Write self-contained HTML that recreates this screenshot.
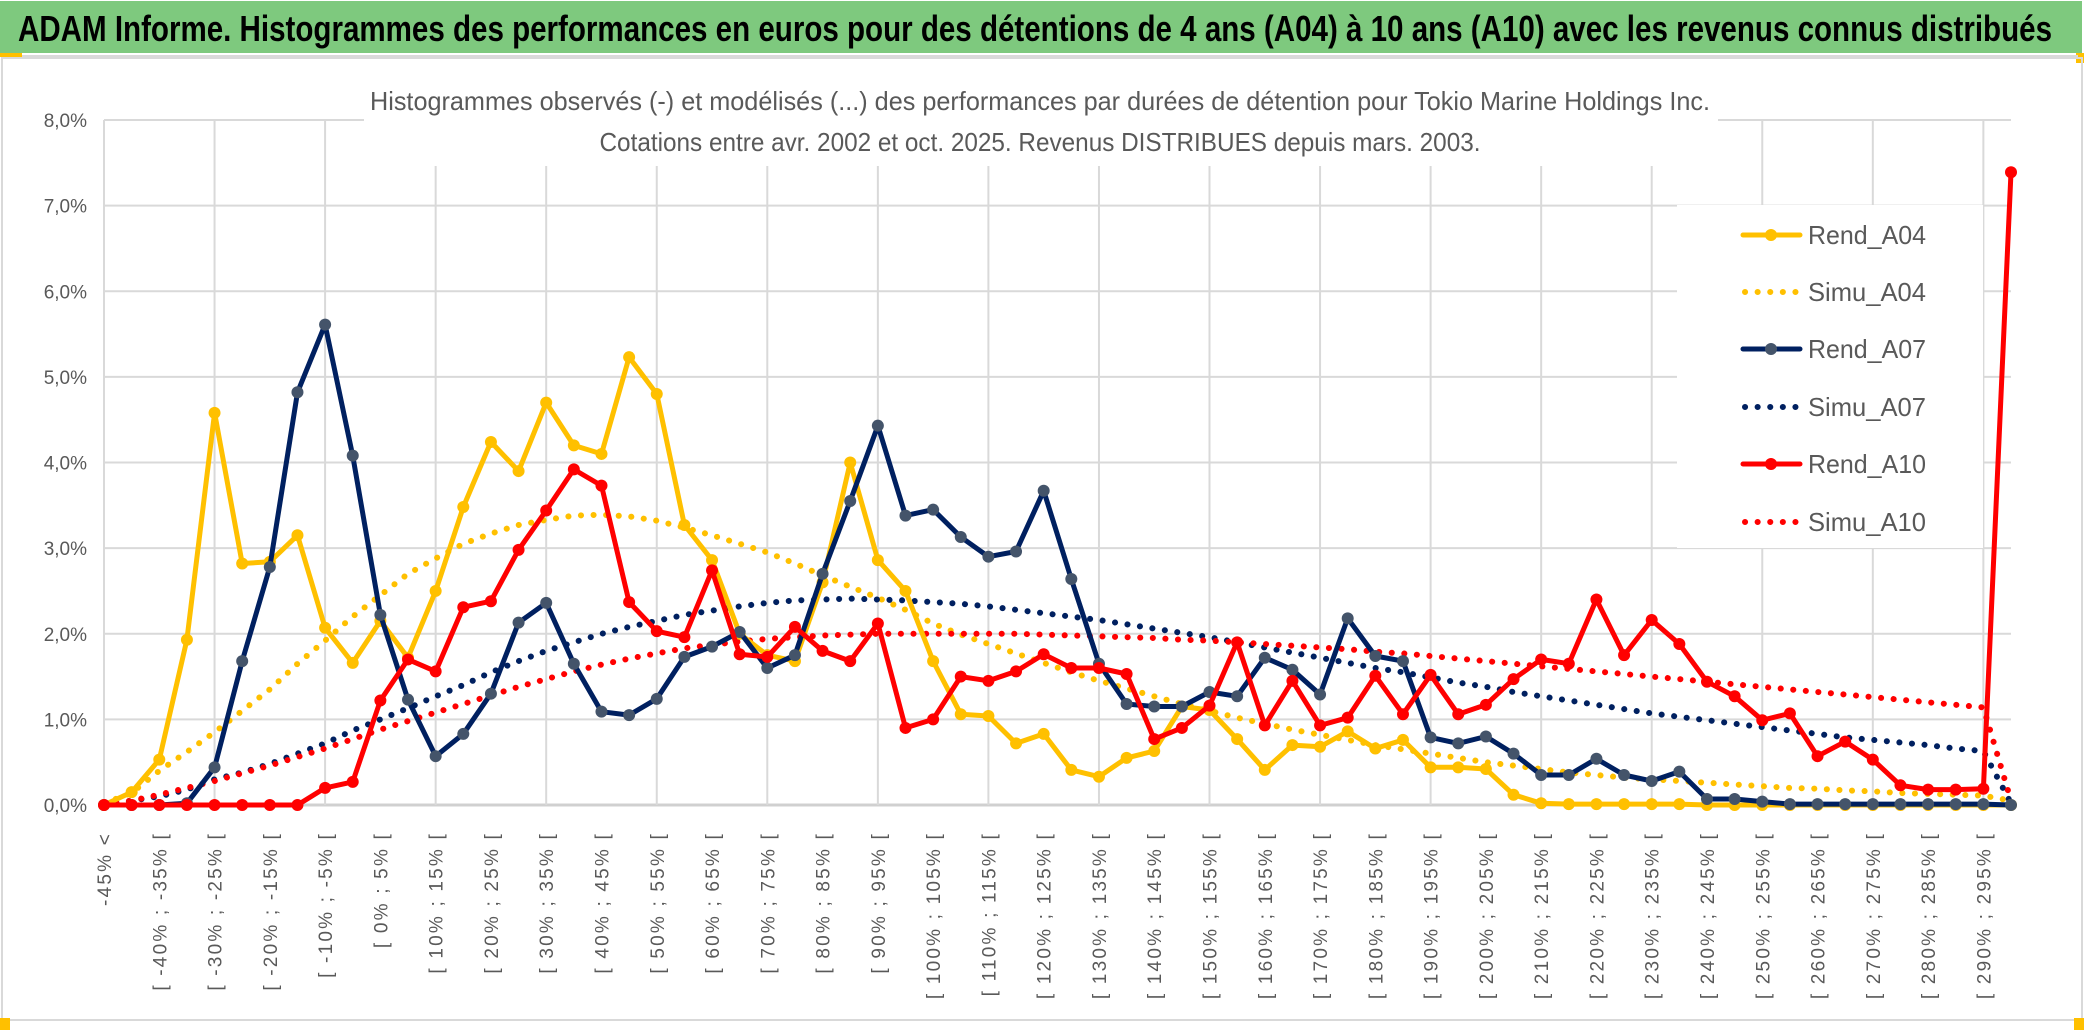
<!DOCTYPE html>
<html><head><meta charset="utf-8"><style>
html,body{margin:0;padding:0;background:#fff;}
svg{display:block;font-family:"Liberation Sans",sans-serif;}
</style></head><body>
<svg id="chart" width="2086" height="1033" viewBox="0 0 2086 1033" xmlns="http://www.w3.org/2000/svg">
<rect x="0" y="0" width="2086" height="1033" fill="#ffffff"/>
<rect x="0" y="1" width="2082" height="52" fill="#7EC97E"/>
<rect x="0" y="53" width="22" height="4" fill="#FFC000"/>
<rect x="2076" y="53" width="8" height="10" fill="#FFC000"/>
<rect x="22" y="55" width="2056" height="3" fill="#d9d9d9"/>
<text x="18" y="41" font-size="36" font-weight="bold" fill="#000" textLength="2034" lengthAdjust="spacingAndGlyphs">ADAM Informe. Histogrammes des performances en euros pour des détentions de 4 ans (A04) à 10 ans (A10) avec les revenus connus distribués</text>
<rect x="2" y="58" width="2080" height="962" fill="none" stroke="#d9d9d9" stroke-width="2"/>
<rect x="0" y="1018" width="10" height="12" fill="#FFC000"/>
<rect x="2074" y="1018" width="10" height="12" fill="#FFC000"/>
<g id="grid"></g>
<rect x="364" y="62" width="1354" height="104" fill="#fff"/>
<text x="1040" y="110" font-size="26" fill="#595959" text-anchor="middle" textLength="1340" lengthAdjust="spacingAndGlyphs">Histogrammes observés (-) et modélisés (...) des performances par durées de détention pour Tokio Marine Holdings Inc.</text>
<text x="1040" y="151" font-size="26" fill="#595959" text-anchor="middle" textLength="881" lengthAdjust="spacingAndGlyphs">Cotations entre avr. 2002 et oct. 2025. Revenus DISTRIBUES depuis mars. 2003.</text>
<g id="yaxis"></g>
<g id="xaxis"></g>
<g id="series"></g>
<g id="legend"></g>
</svg>
<script>
const yTicks = [0,1,2,3,4,5,6,7,8];
const yTickLabels = ["0,0%","1,0%","2,0%","3,0%","4,0%","5,0%","6,0%","7,0%","8,0%"];
const categories = (function(){
  const c = ["-45% <"];
  for (let k = 1; k < 70; k++) { const a = -50 + 5*k; c.push("[ " + a + "% ; " + (a+5) + "% ["); }
  return c;
})();
const rendA04 = [0,0.15,0.53,1.93,4.58,2.82,2.84,3.15,2.07,1.66,2.15,1.72,2.5,3.48,4.24,3.9,4.7,4.2,4.1,5.23,4.8,3.27,2.86,2.0,1.75,1.68,2.6,4.0,2.86,2.5,1.68,1.06,1.04,0.72,0.83,
0.41,0.33,0.55,0.63,1.15,1.11,0.77,0.41,0.7,0.68,0.86,0.66,0.76,0.44,0.44,0.42,0.12,0.02,
0.01,0.01,0.01,0.01,0.01,0,0,0,0,0,0,0,0,0,0,0,0];
const simuA04 = [0.02,0.14,0.4,0.62,0.85,1.1,1.35,1.65,1.92,2.2,2.45,2.7,2.88,3.05,3.17,3.27,3.33,3.38,3.39,3.37,3.32,3.24,3.15,3.05,2.95,2.82,2.68,2.55,2.42,2.28,2.12,1.99,
1.88,1.77,1.66,1.55,1.45,1.36,1.27,1.18,1.1,1.02,0.95,0.88,0.82,0.76,0.7,0.65,0.6,0.55,0.5,0.46,0.42,0.38,0.35,0.32,0.3,0.28,0.26,0.24,0.22,0.2,0.19,0.17,0.16,0.14,0.13,0.12,0.11,0.05];
const rendA07 = [0,0,0,0.02,0.44,1.68,2.78,4.82,5.61,4.08,2.22,1.23,0.57,0.83,1.3,2.13,2.36,1.65,1.09,1.05,1.24,1.73,1.85,2.02,1.6,1.75,2.7,3.55,4.43,3.38,3.45,3.13,2.9,2.96,3.67,
2.64,1.65,1.18,1.15,1.15,1.32,1.27,1.72,1.58,1.29,2.18,1.74,1.68,0.79,0.72,0.8,0.6,0.35,0.35,0.54,0.35,0.28,0.39,0.07,0.07,0.04,0.01,0.01,0.01,0.01,0.01,0.01,0.01,0.01,0];
const simuA07 = [0,0.05,0.1,0.18,0.3,0.38,0.48,0.6,0.72,0.87,1.0,1.13,1.27,1.4,1.55,1.68,1.8,1.9,2.0,2.08,2.15,2.22,2.27,2.32,2.36,2.39,2.4,2.41,2.4,2.39,2.37,2.35,2.32,2.28,
2.24,2.2,2.16,2.11,2.06,2.01,1.96,1.9,1.84,1.78,1.72,1.66,1.6,1.55,1.49,1.43,1.38,1.32,1.27,1.22,1.17,1.12,1.07,1.03,0.99,0.95,0.91,0.87,0.83,0.79,0.76,0.73,0.7,0.66,0.63,0.02];
const rendA10 = [0,0,0,0,0,0,0,0,0.2,0.27,1.22,1.7,1.56,2.31,2.38,2.98,3.44,3.92,3.73,2.37,2.03,1.96,2.74,1.76,1.73,2.08,1.8,1.68,2.12,0.9,1.0,1.5,1.45,1.56,1.76,
1.6,1.6,1.53,0.77,0.9,1.16,1.9,0.93,1.45,0.93,1.02,1.51,1.06,1.52,1.06,1.17,1.47,1.7,1.65,2.4,1.75,2.16,1.88,1.44,1.27,0.99,1.07,0.57,0.74,0.53,0.23,0.18,0.18,0.19,7.39];
const simuA10 = [0,0.05,0.12,0.2,0.28,0.37,0.46,0.56,0.66,0.77,0.88,0.98,1.08,1.18,1.28,1.38,1.47,1.56,1.64,1.71,1.77,1.83,1.87,1.91,1.94,1.96,1.98,1.99,2.0,2.0,2.0,2.0,2.0,2.0,
1.99,1.98,1.97,1.96,1.95,1.93,1.92,1.9,1.88,1.86,1.84,1.82,1.79,1.77,1.74,1.71,1.68,1.65,1.62,1.59,1.56,1.53,1.5,1.47,1.44,1.41,1.38,1.35,1.32,1.29,1.26,1.23,1.2,1.17,1.14,0.05];
const seriesNames = ["Rend_A04","Simu_A04","Rend_A07","Simu_A07","Rend_A10","Simu_A10"];

const NS = "http://www.w3.org/2000/svg";
const X0 = 104, X1 = 2011, Y0 = 805, Y8 = 120;
function xScale(i){ return X0 + (X1 - X0) * i / (categories.length - 1); }
function yScale(v){ return Y0 - (Y0 - Y8) * v / 8; }
function mk(tag, attrs, parent){ const e = document.createElementNS(NS, tag); for (const k in attrs) e.setAttribute(k, attrs[k]); parent.appendChild(e); return e; }

const grid = document.getElementById('grid');
yTicks.forEach(function(t){
  const l = mk('line', {x1: X0, x2: X1, y1: yScale(t), y2: yScale(t), stroke: t === 0 ? '#d0d0d0' : '#d9d9d9', 'stroke-width': t === 0 ? 3 : 2}, grid);
  
  
});
for (let i = 0; i < categories.length; i += 4) {
  const l = mk('line', {x1: xScale(i), x2: xScale(i), y1: Y8, y2: Y0, stroke: '#d9d9d9', 'stroke-width': 2}, grid);
  
  
}
const yaxis = document.getElementById('yaxis');
yTicks.forEach(function(t, k){
  const tx = mk('text', {x: 87, y: yScale(t) + 7, 'font-size': 19, fill: '#595959', 'text-anchor': 'end'}, yaxis);
  tx.textContent = yTickLabels[k];
  
  
});
const xaxis = document.getElementById('xaxis');
for (let i = 0; i < categories.length; i += 2) {
  const x = xScale(i) + 7, y = 832;
  const tx = mk('text', {x: x, y: y, 'font-size': 19, fill: '#595959', 'text-anchor': 'end', 'letter-spacing': '2.2', transform: 'rotate(-90 ' + x + ' ' + y + ')'}, xaxis);
  tx.textContent = categories[i];
  
  
}

const styles = [
  {data: rendA04, color: '#FFC000', solid: true, marker: '#FFC000'},
  {data: simuA04, color: '#FFC000', solid: false},
  {data: rendA07, color: '#002060', solid: true, marker: '#44546A'},
  {data: simuA07, color: '#002060', solid: false},
  {data: rendA10, color: '#FF0000', solid: true, marker: '#FF0000'},
  {data: simuA10, color: '#FF0000', solid: false}
];
const sg = document.getElementById('series');
const order = [1,3,5,0,2,4];
order.forEach(function(si){
  const s = styles[si];
  const g = mk('g', {}, sg);
  
  
  const pts = s.data.map(function(v, i){ return xScale(i).toFixed(1) + ',' + yScale(v).toFixed(1); }).join(' ');
  const pl = mk('polyline', {points: pts, fill: 'none', stroke: s.color, 'stroke-width': s.solid ? 5 : 6,
    'stroke-linecap': 'round', 'stroke-linejoin': 'round', 'stroke-dasharray': s.solid ? 'none' : '0.1 12.5'}, g);
  
  
  if (s.solid) {
    s.data.forEach(function(v, i){
      const c = mk('circle', {cx: xScale(i), cy: yScale(v), r: 6, fill: s.marker}, g);
      
      
    });
  }
});

const lg = document.getElementById('legend');
const bg = mk('rect', {x: 1677, y: 205, width: 306, height: 343, fill: '#fff'}, lg);


const legendY = [235, 292, 349, 407, 464, 522];
seriesNames.forEach(function(n, k){
  const s = styles[k];
  const g = mk('g', {}, lg);
  
  
  const y = legendY[k];
  const l = mk('line', {x1: s.solid ? 1743 : 1745, x2: 1800, y1: y, y2: y, stroke: s.color, 'stroke-width': s.solid ? 5 : 6,
    'stroke-linecap': 'round', 'stroke-dasharray': s.solid ? 'none' : '0.1 12.5'}, g);
  
  
  if (s.solid) {
    const c = mk('circle', {cx: 1771, cy: y, r: 6, fill: s.marker}, g);
    
    
  }
  const t = mk('text', {x: 1808, y: y + 9, 'font-size': 26, fill: '#595959', textLength: 118, lengthAdjust: 'spacingAndGlyphs'}, g);
  t.textContent = n;
  
  
});
</script>
</body></html>
